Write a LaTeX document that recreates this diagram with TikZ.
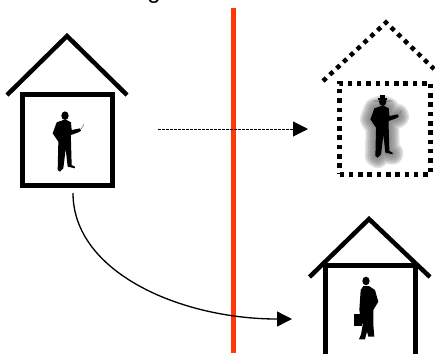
\documentclass[tikz,border=0pt]{standalone}
\usepackage{fontspec}
\setmainfont{Liberation Sans}
\usepackage{xcolor}
\usetikzlibrary{arrows.meta,positioning}
\definecolor{ink}{HTML}{000000}
\definecolor{wallred}{HTML}{FF3A08}
\definecolor{blurgray}{HTML}{777777}
\newcommand{\teacherbody}{(-5,13) -- (-25,20) -- (-37,53) -- (-20,78) -- (-22,163) -- (-15,168) -- (-5,158) -- (2,100) -- (8,153) -- (30,158) -- (30,153) -- (20,148) -- (18,78) -- (18,58) -- (40,50) -- (48,45) -- (45,38) -- (20,43) -- (18,20) -- (5,13) -- cycle}
\newcommand{\teacherfigure}{%
  \fill[ink] \teacherbody;
  \fill[ink] (0,0) ellipse (11 and 13);
  \draw[blurgray,line width=0.3pt] (48,41) -- (57,26);
}
\tikzset{
  wallbox/.style={draw=ink,line width=0.1cm,inner sep=0pt,
                  minimum width=1.8cm,minimum height=1.81cm},
  ghostbox/.style={wallbox,minimum width=1.82cm,minimum height=1.82cm,
                   dash pattern=on 0.09cm off 0.096cm},
  roofline/.style={draw=ink,line width=0.09cm},
  ghostroof/.style={roofline,dash pattern=on 0.09cm off 0.096cm},
  fence/.style={draw=wallred,line width=0.1cm},
  dasharr/.style={-{Triangle[length=0.3cm,width=0.3cm]},line width=0.55pt,
                  dash pattern=on 0.055cm off 0.025cm},
  flowarr/.style={-{Triangle[length=0.3cm,width=0.3cm]},line width=0.75pt},
  teacher/.pic={\teacherfigure},
  blurred/.pic={
    \foreach \w in {0.42,0.36,0.30,0.24,0.18,0.12,0.06}{
      \draw[blurgray,opacity=0.22,line width=\w cm,line join=round,line cap=round] \teacherbody;
      \draw[blurgray,opacity=0.22,line width=\w cm] (0,-4) -- (0,2);
    }
    \teacherfigure
    \fill[ink] (-8,-20) rectangle (8,-8);
    \fill[ink] (-14,-10) rectangle (14,-6);
  },
  traveller/.pic={
    \fill[ink] (0,0) ellipse (11 and 13);
    \fill[ink] (-8,15) -- (-16,27) -- (-20,87) -- (-18,100) -- (-10,132) -- (-15,160) -- (-21,175) -- (-3,175) -- (3,152) -- (7,167) -- (25,167) -- (22,132) -- (22,87) -- (37,62) -- (27,27) -- (9,15) -- cycle;
    \fill[ink] (-35,100) rectangle (-13,135);
  }
}
\begin{document}
\begin{tikzpicture}[x=0.02cm,y=-0.02cm]
  \path[use as bounding box,clip] (0,0) rectangle (435,353);
  \node[font=\fontsize{13.6}{16}\selectfont,anchor=base,inner sep=0pt] (title) at (154,-2) {g};

  \draw[fence] (233.5,8) coordinate (fencetop) -- (233.5,353) coordinate (fencebot);

  % left house
  \node[wallbox] (home) at (67.5,140.2) {};
  \coordinate (homepeak) at (67,36);
  \draw[roofline] (7,95) -- (homepeak) -- (127,95);
  \pic[scale=0.333] at (65,115.7) {teacher};

  % copy on the right
  \node[ghostbox] (ghost) at (385,128.5) {};
  \coordinate (ghostpeak) at (386,22.5);
  \draw[ghostroof] (323,81) -- (ghostpeak) -- (434,69);
  \pic[scale=0.333] at (382.7,101.7) {blurred};

  % lower house
  \node[wallbox,minimum height=2cm,anchor=north] (away) at (370,263) {};
  \coordinate (awaypeak) at (369,219);
  \draw[roofline] (309.5,277) -- (awaypeak) -- (430,277);
  \pic[scale=0.333] at (366,281) {traveller};

  \coordinate (copyfrom) at (158,129);
  \coordinate (copyto) at (308,129);
  \coordinate (movefrom) at (73,193);
  \coordinate (moveto) at (292,319);
  \draw[dasharr] (copyfrom) -- (copyto);
  \draw[flowarr] (movefrom) .. controls (73,272) and (180,319) .. (moveto);
\end{tikzpicture}
\end{document}
